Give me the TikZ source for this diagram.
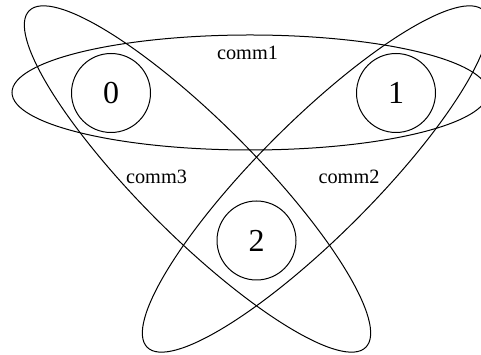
\documentclass[tikz,border=0pt]{standalone}
\usepackage{fontspec}
\setmainfont{Liberation Serif}
\begin{document}
\begin{tikzpicture}[x=1pt,y=1pt,
  proc/.style={draw,circle,line width=1pt,minimum size=79pt,inner sep=0pt,font=\fontsize{32}{36}\selectfont},
  commlabel/.style={inner sep=0pt,font=\fontsize{20.3}{24}\selectfont},
  commset/.style={draw,line width=1pt}]
\useasboundingbox (0,0) rectangle (481,355);
\clip (0,0) rectangle (481,355);
% sets
\draw[commset] (250,262.5) ellipse [x radius=238pt, y radius=57.5pt];
\draw[commset,rotate around={-45:(197.5,176)}] (197.5,176) ellipse [x radius=238pt, y radius=57.5pt];
\draw[commset,rotate around={45:(315.5,176)}] (315.5,176) ellipse [x radius=238pt, y radius=57.5pt];
% processes
\node[proc] (n0) at (111,262) {0};
\node[proc] (n1) at (396,262) {1};
\node[proc] (n2) at (256.5,114.5) {2};
% labels
\node[commlabel] (l1) at (247.5,302) {comm1};
\node[commlabel] (l3) at (156.5,178) {comm3};
\node[commlabel] (l2) at (349,178) {comm2};
\end{tikzpicture}
\end{document}
